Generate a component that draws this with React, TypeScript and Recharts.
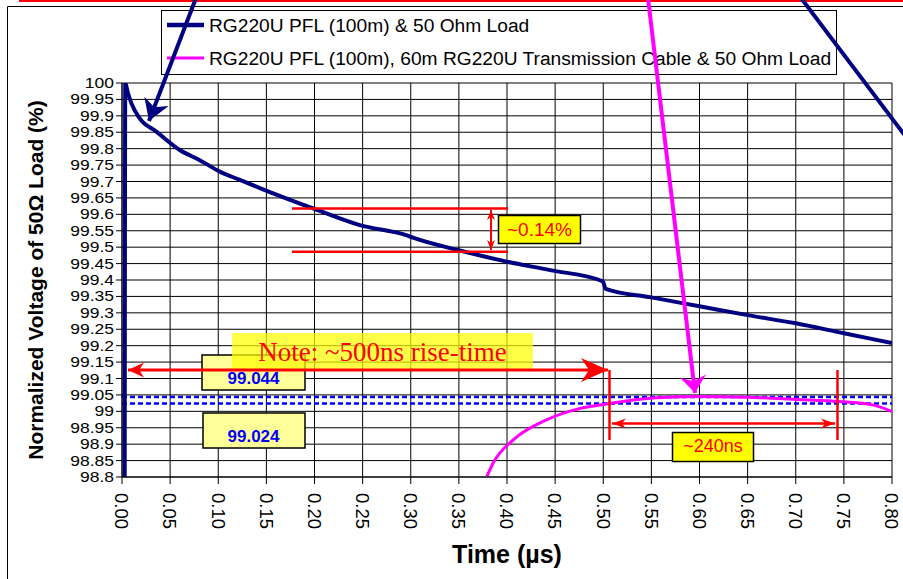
import React from 'react';
import { ComposedChart, Line, XAxis, YAxis, CartesianGrid, ReferenceLine } from 'recharts';

// time in µs, normalized voltage in %
const X_TICKS = [0, 0.05, 0.1, 0.15, 0.2, 0.25, 0.3, 0.35, 0.4, 0.45, 0.5, 0.55, 0.6, 0.65, 0.7, 0.75, 0.8];
const Y_TICKS = [
  98.8, 98.85, 98.9, 98.95, 99, 99.05, 99.1, 99.15, 99.2, 99.25, 99.3, 99.35, 99.4,
  99.45, 99.5, 99.55, 99.6, 99.65, 99.7, 99.75, 99.8, 99.85, 99.9, 99.95, 100,
];

const PFL_LOAD = [
  { t: 0.0028, v: 98.8 },
  { t: 0.0034, v: 100.0 },
  { t: 0.0062, v: 99.969 },
  { t: 0.0098, v: 99.938 },
  { t: 0.0184, v: 99.892 },
  { t: 0.0357, v: 99.852 },
  { t: 0.06, v: 99.796 },
  { t: 0.0808, v: 99.765 },
  { t: 0.1016, v: 99.73 },
  { t: 0.1224, v: 99.705 },
  { t: 0.1432, v: 99.68 },
  { t: 0.1985, v: 99.618 },
  { t: 0.247, v: 99.567 },
  { t: 0.296, v: 99.536 },
  { t: 0.3024, v: 99.529 },
  { t: 0.351, v: 99.49 },
  { t: 0.3997, v: 99.456 },
  { t: 0.4447, v: 99.43 },
  { t: 0.4995, v: 99.396 },
  { t: 0.5025, v: 99.373 },
  { t: 0.55, v: 99.347 },
  { t: 0.6, v: 99.32 },
  { t: 0.65, v: 99.293 },
  { t: 0.7, v: 99.268 },
  { t: 0.75, v: 99.238 },
  { t: 0.8, v: 99.208 },
];

const PFL_CABLE_LOAD = [
  { t: 0.379, v: 98.801 },
  { t: 0.3855, v: 98.842 },
  { t: 0.4065, v: 98.913 },
  { t: 0.441, v: 98.974 },
  { t: 0.476, v: 99.009 },
  { t: 0.507, v: 99.024 },
  { t: 0.538, v: 99.037 },
  { t: 0.566, v: 99.043 },
  { t: 0.597, v: 99.045 },
  { t: 0.649, v: 99.043 },
  { t: 0.697, v: 99.037 },
  { t: 0.718, v: 99.034 },
  { t: 0.749, v: 99.029 },
  { t: 0.781, v: 99.019 },
  { t: 0.8, v: 98.999 },
];

const FLAT_TOP_LEVELS = [99.044, 99.024];

const SERIES_NAMES = [
  'RG220U PFL (100m) & 50 Ohm Load',
  'RG220U PFL (100m), 60m RG220U Transmission Cable & 50 Ohm Load',
];

const NAVY = '#000080';
const MAGENTA = '#ff00ff';
const SANS = '"Liberation Sans", Arial, sans-serif';
const SERIF = '"Liberation Serif", "Times New Roman", serif';

const fmtY = (v: number) => String(parseFloat(v.toFixed(2)));
const fmtX = (v: number) => v.toFixed(2);

const XTick = (props: any) => {
  const { x, y, payload } = props;
  return (
    <text
      transform={`translate(${x},${y}) rotate(90)`}
      textAnchor="start"
      dy="0.36em"
      fontSize={18.5}
      fontFamily={SANS}
      fill="#000"
    >
      {fmtX(payload.value)}
    </text>
  );
};

const YTick = (props: any) => {
  const { x, y, payload } = props;
  return (
    <text
      transform={`translate(${x},${y}) scale(1.25,1)`}
      textAnchor="end"
      dy="0.36em"
      fontSize={14}
      fontFamily={SANS}
      fill="#000"
    >
      {fmtY(payload.value)}
    </text>
  );
};

function head(tx: number, ty: number, fx: number, fy: number, len: number, half: number) {
  const dx = tx - fx;
  const dy = ty - fy;
  const d = Math.hypot(dx, dy);
  const ux = dx / d;
  const uy = dy / d;
  const bx = tx - ux * len;
  const by = ty - uy * len;
  const nx = tx - ux * len * 0.7;
  const ny = ty - uy * len * 0.7;
  return `${tx},${ty} ${bx - uy * half},${by + ux * half} ${nx},${ny} ${bx + uy * half},${by - ux * half}`;
}

const Arrow = ({ x1, y1, x2, y2, color, w, len, half, both, len1, half1 }: any) => (
  <g>
    <line x1={x1} y1={y1} x2={x2} y2={y2} stroke={color} strokeWidth={w} />
    <polygon points={head(x2, y2, x1, y1, len, half)} fill={color} />
    {both && <polygon points={head(x1, y1, x2, y2, len1 ?? len, half1 ?? half)} fill={color} />}
  </g>
);

const Overlay = () => (
  <svg
    width={903}
    height={579}
    style={{ position: 'absolute', left: 0, top: 0, pointerEvents: 'none' }}
  >
    {/* frame */}
    <line x1={19} y1={1} x2={903} y2={1} stroke="#ff0000" strokeWidth={2} />
    <line x1={7.5} y1={6.5} x2={903} y2={6.5} stroke="#000" strokeWidth={1} />
    <line x1={7.5} y1={6.5} x2={7.5} y2={579} stroke="#000" strokeWidth={1} />

    {/* axis titles */}
    <text
      transform="translate(43,280) rotate(-90)"
      textAnchor="middle"
      fontSize={21}
      fontWeight="bold"
      fontFamily={SANS}
      fill="#000"
    >
      Normalized Voltage of 50Ω Load (%)
    </text>
    <text x={507} y={563} textAnchor="middle" fontSize={25} fontWeight="bold" fontFamily={SANS} fill="#000">
      Time (µs)
    </text>

    {/* legend */}
    <rect x={161.5} y={10.5} width={675} height={64} fill="#fff" stroke="#000" strokeWidth={1} />
    <line x1={167} y1={25} x2={204} y2={25} stroke={NAVY} strokeWidth={4.5} />
    <line x1={167} y1={58} x2={204} y2={58} stroke={MAGENTA} strokeWidth={3} />
    <text x={209} y={31.5} fontSize={19.2} fontFamily={SANS} fill="#000">{SERIES_NAMES[0]}</text>
    <text x={209} y={64.5} fontSize={19.2} fontFamily={SANS} fill="#000">{SERIES_NAMES[1]}</text>

    {/* ~0.14% droop */}
    <line x1={292} y1={208.5} x2={508} y2={208.5} stroke="#ff0000" strokeWidth={2.5} />
    <line x1={292} y1={251.7} x2={508} y2={251.7} stroke="#ff0000" strokeWidth={2.5} />
    <Arrow x1={491} y1={210} x2={491} y2={250} color="#ff0000" w={2} len={10} half={4} both />
    <rect x={498.5} y={215.5} width={82} height={28} fill="#ffff00" stroke="#000" strokeWidth={1.5} />
    <text x={539.5} y={236} textAnchor="middle" fontSize={19} fontFamily={SANS} fill="#ff0000">~0.14%</text>

    {/* flat-top value boxes */}
    <rect x={202} y={355} width={103} height={35} fill="#ffff99" stroke="#000" strokeWidth={1.5} />
    <text x={253.5} y={383.5} textAnchor="middle" fontSize={17} fontWeight="bold" fontFamily={SANS} fill="#0000ff">99.044</text>
    <rect x={203} y={413} width={102} height={35} fill="#ffff99" stroke="#000" strokeWidth={1.5} />
    <text x={253.5} y={442} textAnchor="middle" fontSize={17} fontWeight="bold" fontFamily={SANS} fill="#0000ff">99.024</text>

    {/* rise-time note */}
    <rect x={232} y={333} width={301} height={37} fill="#ffff00" fillOpacity={0.72} />
    <text x={382.5} y={360.5} textAnchor="middle" fontSize={27} fontFamily={SERIF} fill="#ff0000">
      Note: ~500ns rise-time
    </text>
    <Arrow x1={128} y1={370} x2={608} y2={370} color="#ff0000" w={3} len={27} half={12} both len1={16} half1={7.5} />

    {/* ~240ns flat-top width */}
    <line x1={609.5} y1={370} x2={609.5} y2={440} stroke="#ff0000" strokeWidth={2.5} />
    <line x1={837.5} y1={370} x2={837.5} y2={440} stroke="#ff0000" strokeWidth={2.5} />
    <Arrow x1={612} y1={423.5} x2={835} y2={423.5} color="#ff0000" w={2.5} len={14} half={5} both />
    <rect x={672.5} y={432.5} width={81} height={29} fill="#ffff00" stroke="#000" strokeWidth={1.5} />
    <text x={713} y={452} textAnchor="middle" fontSize={18} fontFamily={SANS} fill="#ff0000">~240ns</text>

    {/* pointer arrows */}
    <Arrow x1={196} y1={-2} x2={149} y2={121} color={NAVY} w={4} len={21} half={13} />
    <line x1={801} y1={-2} x2={906} y2={137} stroke={NAVY} strokeWidth={4} />
    <Arrow x1={648} y1={-2} x2={695} y2={393} color={MAGENTA} w={4} len={17} half={13} />
  </svg>
);

export default function App() {
  return (
    <div style={{ position: 'absolute', left: 0, top: 0, width: 903, height: 579, background: '#fff' }}>
      <ComposedChart width={903} height={579} margin={{ top: 83, right: 11, bottom: 0, left: 0 }}>
        <CartesianGrid stroke="#000" strokeWidth={1} horizontal vertical />
        <XAxis
          type="number"
          dataKey="t"
          domain={[0, 0.8]}
          ticks={X_TICKS}
          interval={0}
          allowDataOverflow
          height={102}
          tickSize={7}
          tickMargin={9}
          tick={<XTick />}
          axisLine={{ stroke: '#000', strokeWidth: 1 }}
          tickLine={{ stroke: '#000', strokeWidth: 1 }}
        />
        <YAxis
          type="number"
          domain={[98.8, 100]}
          ticks={Y_TICKS}
          interval={0}
          allowDataOverflow
          width={122}
          tickSize={6}
          tickMargin={2}
          tick={<YTick />}
          axisLine={{ stroke: '#000', strokeWidth: 1 }}
          tickLine={{ stroke: '#000', strokeWidth: 1 }}
        />
        {FLAT_TOP_LEVELS.map((lv) => (
          <ReferenceLine key={lv} y={lv} stroke="#0000ff" strokeWidth={2.5} strokeDasharray="5 3" />
        ))}
        <Line
          data={PFL_CABLE_LOAD}
          dataKey="v"
          type="monotone"
          stroke={MAGENTA}
          strokeWidth={3}
          dot={false}
          isAnimationActive={false}
        />
        <Line
          data={PFL_LOAD}
          dataKey="v"
          type="monotone"
          stroke={NAVY}
          strokeWidth={4}
          dot={false}
          isAnimationActive={false}
        />
      </ComposedChart>
      <Overlay />
    </div>
  );
}
